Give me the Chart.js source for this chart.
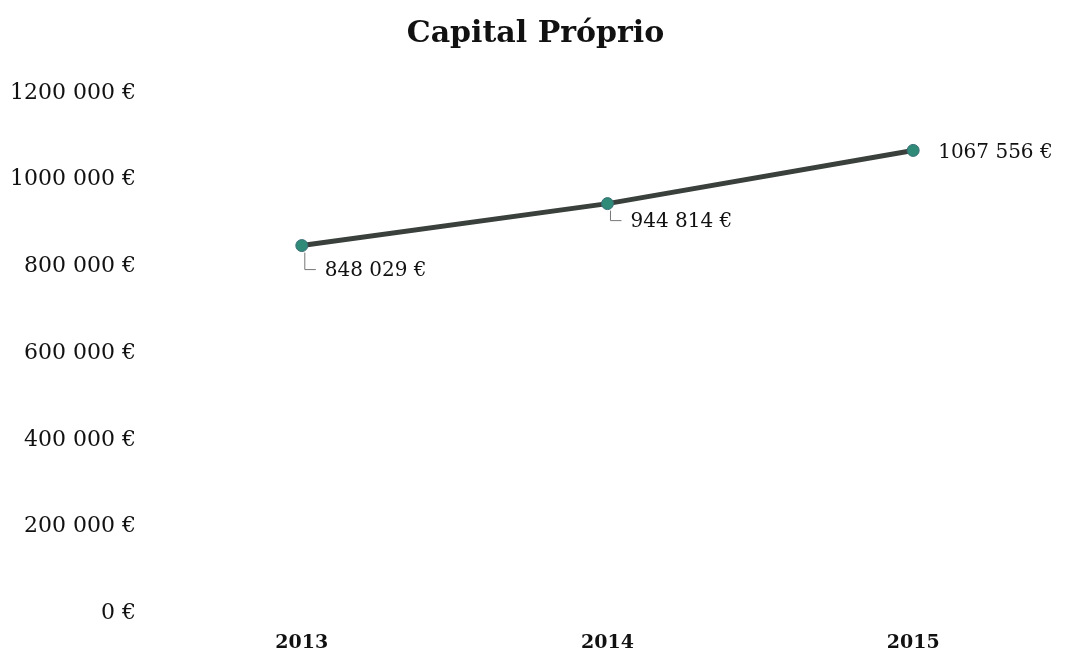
<!DOCTYPE html>
<html>
<head>
<meta charset="utf-8">
<script src="https://cdn.jsdelivr.net/npm/chart.js@4/dist/chart.umd.min.js"></script>
<style>
html,body{margin:0;padding:0;background:#fff;}
#wrap{width:1088px;height:655px;}
</style>
</head>
<body>
<div id="wrap"><canvas id="c" width="1088" height="655"></canvas></div>
<script>
const categories = ["2013", "2014", "2015"];
const capitalProprio = [848029, 944814, 1067556];
const yTicks = [0, 200000, 400000, 600000, 800000, 1000000, 1200000];

const FONT = "'DejaVu Serif', 'Liberation Serif', serif";

function fmt(v) {
  const t = Math.floor(v / 1000);
  const r = Math.round(v % 1000);
  if (t === 0) return r + " €";
  return t + " " + String(r).padStart(3, "0") + " €";
}

const labelPlugin = {
  id: "valueLabels",
  afterDatasetsDraw(chart) {
    const ctx = chart.ctx;
    const meta = chart.getDatasetMeta(0);
    ctx.save();
    ctx.font = "20px " + FONT;
    ctx.fillStyle = "#111";
    ctx.textBaseline = "middle";
    ctx.textAlign = "left";
    meta.data.forEach((pt, i) => {
      const txt = fmt(capitalProprio[i]);
      if (i < meta.data.length - 1) {
        const dy = i === 0 ? 24 : 17;
        const lx = pt.x + 3, ly = pt.y + dy;
        ctx.strokeStyle = "#777";
        ctx.lineWidth = 1;
        ctx.beginPath();
        ctx.moveTo(lx, pt.y + 7);
        ctx.lineTo(lx, ly);
        ctx.lineTo(lx + 11, ly);
        ctx.stroke();
        ctx.fillText(txt, pt.x + 23, ly + 1);
      } else {
        ctx.fillText(txt, pt.x + 25, pt.y + 2);
      }
    });
    ctx.restore();
  }
};

new Chart(document.getElementById("c"), {
  type: "line",
  data: {
    labels: categories,
    datasets: [{
      data: capitalProprio,
      borderColor: "#3a403c",
      borderWidth: 5,
      pointRadius: 6,
      pointBackgroundColor: "#2f8a78",
      pointBorderColor: "#3b6f78",
      pointBorderWidth: 1,
      tension: 0
    }]
  },
  options: {
    responsive: false,
    animation: false,
    layout: { padding: { left: 5, right: 22, top: 0, bottom: -9 } },
    plugins: {
      legend: { display: false },
      tooltip: { enabled: false },
      title: {
        display: true,
        text: "Capital Próprio",
        color: "#111",
        font: { family: FONT, size: 30, weight: "bold" },
        padding: { top: 16, bottom: 41 }
      }
    },
    scales: {
      x: {
        type: "category",
        offset: true,
        grid: { display: false },
        border: { display: false },
        ticks: {
          color: "#111",
          padding: 10,
          font: { family: FONT, size: 19, weight: "bold" }
        }
      },
      y: {
        min: 0,
        max: 1200000,
        afterBuildTicks(scale) { scale.ticks = yTicks.map(v => ({ value: v })); },
        grid: { display: false },
        border: { display: false },
        ticks: {
          color: "#111",
          padding: 5,
          font: { family: FONT, size: 22 },
          callback: v => fmt(v)
        }
      }
    }
  },
  plugins: [labelPlugin]
});
</script>
</body>
</html>
